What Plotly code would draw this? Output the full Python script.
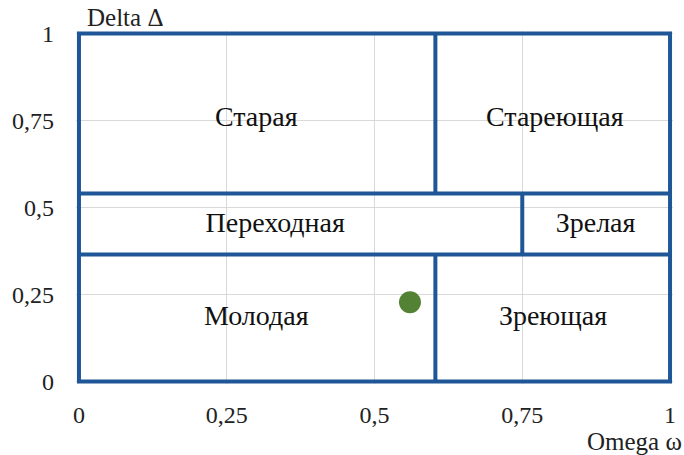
import plotly.graph_objects as go

# Zone boundaries (Omega on x, Delta on y)
x_split_top = 0.603      # vertical divider in the upper zone
x_split_mid = 0.75       # vertical divider in the middle band
x_split_low = 0.603      # vertical divider in the lower zone
y_split_high = 0.54      # horizontal divider (top of middle band)
y_split_low = 0.365      # horizontal divider (bottom of middle band)

# Zone labels and their centres
zone_names = ["Старая", "Стареющая", "Переходная", "Зрелая", "Молодая", "Зреющая"]
zone_x = [0.30, 0.805, 0.332, 0.874, 0.30, 0.802]
zone_y = [0.754, 0.754, 0.451, 0.451, 0.183, 0.183]

# The assessed point
point_omega = [0.56]
point_delta = [0.228]

tick_vals = [0, 0.25, 0.5, 0.75, 1]
tick_text = ["0", "0,25", "0,5", "0,75", "1"]

BLUE = "#1F5697"
GREEN = "#548235"
FONT = "Liberation Serif, Times New Roman, serif"

fig = go.Figure()

# Zone label text
fig.add_trace(go.Scatter(
    x=zone_x, y=zone_y, mode="text", text=zone_names,
    textfont=dict(family=FONT, size=28, color="#111111"),
    hoverinfo="skip", showlegend=False))

# Point
fig.add_trace(go.Scatter(
    x=point_omega, y=point_delta, mode="markers",
    marker=dict(size=22, color=GREEN), showlegend=False))

line = dict(color=BLUE, width=4)
# Outer frame
fig.add_shape(type="rect", x0=0, x1=1, y0=0, y1=1, line=line, layer="above")
# Horizontal dividers
fig.add_shape(type="line", x0=0, x1=1, y0=y_split_high, y1=y_split_high, line=line, layer="above")
fig.add_shape(type="line", x0=0, x1=1, y0=y_split_low, y1=y_split_low, line=line, layer="above")
# Vertical dividers
fig.add_shape(type="line", x0=x_split_top, x1=x_split_top, y0=y_split_high, y1=1, line=line, layer="above")
fig.add_shape(type="line", x0=x_split_mid, x1=x_split_mid, y0=y_split_low, y1=y_split_high, line=line, layer="above")
fig.add_shape(type="line", x0=x_split_low, x1=x_split_low, y0=0, y1=y_split_low, line=line, layer="above")

axis_common = dict(
    tickvals=tick_vals, ticktext=tick_text,
    showgrid=True, gridcolor="#D9D9D9", gridwidth=1,
    zeroline=False, showline=False, ticks="",
    automargin=False,
    tickfont=dict(family=FONT, size=24, color="#222222"),
)

fig.update_xaxes(range=[-0.005, 1.005], ticklabelstandoff=14, **axis_common)
fig.update_yaxes(range=[-0.007, 1.007], ticklabelstandoff=21, **axis_common)

fig.add_annotation(text="Delta Δ", xref="paper", yref="paper", x=0.015, y=1.0,
                   xanchor="left", yanchor="bottom", yshift=-2, showarrow=False,
                   font=dict(family=FONT, size=25, color="#222222"))
fig.add_annotation(text="Omega ω", xref="paper", yref="paper", x=1.0, y=0,
                   xanchor="right", yanchor="top", xshift=11, yshift=-42, showarrow=False,
                   font=dict(family=FONT, size=25, color="#222222"))

fig.update_layout(
    width=684, height=455,
    margin=dict(l=76, r=11, t=31, b=71),
    paper_bgcolor="white", plot_bgcolor="white",
    showlegend=False,
)

fig.write_html("out.html", config={"displayModeBar": False},
               post_script="document.body.style.margin='0';document.body.style.padding='0';document.body.style.overflow='hidden';")
